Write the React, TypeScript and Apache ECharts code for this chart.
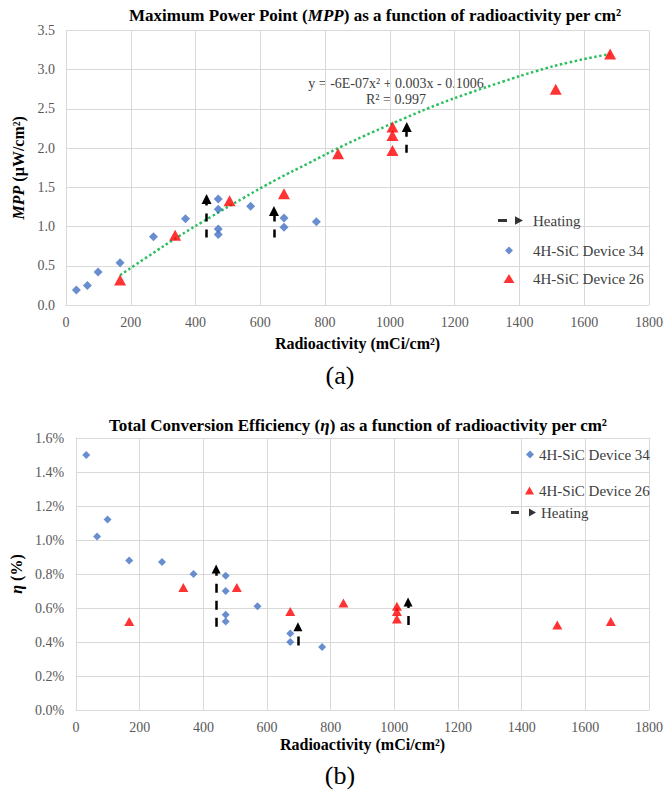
import React, { useEffect, useRef } from "react";
import * as echarts from "echarts";

// ---------- DATA ----------
// (a) Maximum Power Point, µW/cm² vs radioactivity mCi/cm²
const dev34Mpp: number[][] = [
  [32, 0.19], [66, 0.25], [99, 0.42], [167, 0.54], [270, 0.87], [369, 1.1],
  [470, 1.35], [470, 1.22], [470, 0.97], [470, 0.9], [570, 1.26],
  [673, 1.11], [673, 0.99], [773, 1.06],
];
const dev26Mpp: number[][] = [
  [167, 0.32], [337, 0.89], [505, 1.33], [673, 1.42], [840, 1.93],
  [1008, 1.97], [1008, 2.16], [1008, 2.27], [1512, 2.75], [1680, 3.2],
];
// trendline
const trendMpp: number[][] = [
  [167, 0.38], [250, 0.61], [350, 0.88], [450, 1.13], [550, 1.37], [650, 1.6],
  [750, 1.81], [850, 2.02], [950, 2.21], [1050, 2.39], [1150, 2.56],
  [1250, 2.71], [1350, 2.85], [1450, 2.98], [1550, 3.09], [1680, 3.2],
];
// heating arrows: [x, from, to]
const heatMpp: number[][] = [
  [434, 0.86, 1.35], [642, 0.86, 1.2], [1052, 1.94, 2.27],
];

// (b) Total conversion efficiency, %
const dev34Eff: number[][] = [
  [32, 1.5], [66, 1.02], [99, 1.12], [167, 0.88], [270, 0.87], [369, 0.8],
  [470, 0.79], [470, 0.7], [470, 0.56], [470, 0.52], [570, 0.61],
  [673, 0.45], [673, 0.4], [773, 0.37],
];
const dev26Eff: number[][] = [
  [167, 0.52], [337, 0.72], [505, 0.72], [673, 0.58], [840, 0.63],
  [1008, 0.61], [1008, 0.58], [1008, 0.535], [1512, 0.5], [1680, 0.52],
];
const heatEff: number[][] = [
  [440, 0.49, 0.83], [697, 0.38, 0.49], [1043, 0.5, 0.635],
];

const xTicks = { min: 0, max: 1800, interval: 200 };
const mppTicks = { min: 0, max: 3.5, interval: 0.5 };
const effTicks = { min: 0, max: 1.6, interval: 0.2 };

const NAME34 = "4H-SiC Device 34";
const NAME26 = "4H-SiC Device 26";
const NAMEH = "Heating";

const BLUE = "#4472C4";
const RED = "#FF0000";
const GREEN = "#2DBE60";
const GRID = "#D9D9D9";
const LABEL = "#595959";
const SERIF = "Liberation Serif";

const dot = (x: number, y: number) => `M${x},${y}h0.01v0.01h-0.01Z`;

export default function App() {
  const ref = useRef<HTMLDivElement>(null);

  useEffect(() => {
    document.body.style.margin = "0";
    if (!ref.current) return;
    const chart = echarts.init(ref.current, undefined, { renderer: "svg" });

    const xAxisBase = (gridIndex: number, nameGap: number) => ({
      type: "value" as const,
      gridIndex,
      ...xTicks,
      name: "Radioactivity (mCi/cm²)",
      nameLocation: "middle" as const,
      nameGap,
      nameTextStyle: { fontFamily: SERIF, fontSize: 16, fontWeight: "bold", color: "#000" },
      axisLine: { show: true, lineStyle: { color: GRID } },
      axisTick: { show: false },
      axisLabel: { fontFamily: SERIF, fontSize: 14, color: LABEL, margin: 10, formatter: (v: number) => String(v) },
      splitLine: { show: true, lineStyle: { color: GRID, width: 1 } },
    });

    const arrowLines = (arr: number[][]) =>
      arr.map(([x, a, b]) => [{ coord: [x, a] }, { coord: [x, b] }]);

    const mkHeat = (idx: number, arr: number[][], dash: number[], size: number) => ({
      name: NAMEH,
      type: "scatter" as const,
      xAxisIndex: idx,
      yAxisIndex: idx,
      data: [],
      itemStyle: { color: "#000" },
      markLine: {
        silent: true,
        symbol: ["none", "triangle"],
        symbolSize: [size, size],
        label: { show: false },
        lineStyle: { color: "#000", width: 2.5, type: dash, opacity: 1 },
        emphasis: { disabled: true },
        data: arrowLines(arr),
      },
    });

    const heatIconA =
      "path://" + dot(0, 0) + dot(30, 10) + "M0,3.5H9V6.5H0ZM17,0.8L25,5L17,9.2Z";
    const diaIconA = "path://" + dot(0, 0) + dot(30, 10) + "M11,1L15,5L11,9L7,5Z";
    const triIconA = "path://" + dot(0, 0) + dot(30, 10) + "M11,0.5L16.5,9.5L5.5,9.5Z";
    const heatIconB =
      "path://" + dot(0, 0) + dot(25, 10) + "M0,3.5H8V6.5H0ZM18,1L25,5L18,9Z";

    const legendText = { fontFamily: SERIF, fontSize: 15, color: "#404040" };
    const leg = (name: string, left: number, top: number, icon: string, w: number, h: number) => ({
      data: [{ name, icon }],
      left,
      top,
      itemWidth: w,
      itemHeight: h,
      selectedMode: false,
      padding: 0,
      textStyle: legendText,
    });

    const option: any = {
      animation: false,
      backgroundColor: "#fff",
      grid: [
        { left: 66, right: 14, top: 30.5, height: 274.5 },
        { left: 69.5, right: 16, top: 438, height: 272 },
      ],
      xAxis: [xAxisBase(0, 30), xAxisBase(1, 26)],
      yAxis: [
        {
          type: "value",
          gridIndex: 0,
          ...mppTicks,
          name: "{i|MPP} (µW/cm²)",
          nameLocation: "middle",
          nameGap: 36,
          nameRotate: 90,
          nameTextStyle: {
            fontFamily: SERIF, fontSize: 16, fontWeight: "bold", color: "#000",
            rich: { i: { fontFamily: SERIF, fontSize: 16, fontWeight: "bold", fontStyle: "italic", color: "#000" } },
          },
          axisLine: { show: true, lineStyle: { color: GRID } },
          axisTick: { show: false },
          axisLabel: { fontFamily: SERIF, fontSize: 14, color: LABEL, margin: 11, formatter: (v: number) => v.toFixed(1) },
          splitLine: { show: true, lineStyle: { color: GRID } },
        },
        {
          type: "value",
          gridIndex: 1,
          ...effTicks,
          name: "{i|η} (%)",
          nameLocation: "middle",
          nameGap: 46,
          nameRotate: 90,
          nameTextStyle: {
            fontFamily: SERIF, fontSize: 16, fontWeight: "bold", color: "#000",
            rich: { i: { fontFamily: SERIF, fontSize: 16, fontWeight: "bold", fontStyle: "italic", color: "#000" } },
          },
          axisLine: { show: true, lineStyle: { color: GRID } },
          axisTick: { show: false },
          axisLabel: { fontFamily: SERIF, fontSize: 14, color: LABEL, margin: 12, formatter: (v: number) => v.toFixed(1) + "%" },
          splitLine: { show: true, lineStyle: { color: GRID } },
        },
      ],
      legend: [
        leg(NAMEH, 498, 213, heatIconA, 30, 10),
        leg(NAME34, 498, 243, diaIconA, 30, 10),
        leg(NAME26, 498, 271, triIconA, 30, 10),
        leg(NAME34, 526, 447, "diamond", 8, 8),
        leg(NAME26, 525, 483, "triangle", 9, 8),
        leg(NAMEH, 511, 505, heatIconB, 25, 10),
      ],
      series: [
        {
          type: "line",
          xAxisIndex: 0,
          yAxisIndex: 0,
          data: trendMpp,
          smooth: true,
          showSymbol: false,
          silent: true,
          lineStyle: { color: GREEN, width: 2.5, type: [2.5, 2.5] },
          z: 1,
        },
        {
          name: NAME34, type: "scatter", xAxisIndex: 0, yAxisIndex: 0,
          data: dev34Mpp, symbol: "diamond", symbolSize: 9, itemStyle: { color: BLUE }, z: 3,
        },
        {
          name: NAME26, type: "scatter", xAxisIndex: 0, yAxisIndex: 0,
          data: dev26Mpp, symbol: "triangle", symbolSize: [12, 11], itemStyle: { color: RED }, z: 3,
        },
        mkHeat(0, heatMpp, [8, 8], 10),
        {
          name: NAME34, type: "scatter", xAxisIndex: 1, yAxisIndex: 1,
          data: dev34Eff, symbol: "diamond", symbolSize: 8, itemStyle: { color: BLUE }, z: 3,
        },
        {
          name: NAME26, type: "scatter", xAxisIndex: 1, yAxisIndex: 1,
          data: dev26Eff, symbol: "triangle", symbolSize: [10, 9], itemStyle: { color: RED }, z: 3,
        },
        mkHeat(1, heatEff, [9, 8], 9),
      ],
      graphic: [
        {
          type: "text", x: 375, y: 15,
          style: {
            text: "{b|Maximum Power Point (}{i|MPP}{b|) as a function of radioactivity per cm²}",
            align: "center", verticalAlign: "middle",
            rich: {
              b: { fontFamily: SERIF, fontSize: 17, fontWeight: "bold", fill: "#000" },
              i: { fontFamily: SERIF, fontSize: 17, fontWeight: "bold", fontStyle: "italic", fill: "#000" },
            },
          },
        },
        {
          type: "text", x: 358, y: 425,
          style: {
            text: "{b|Total Conversion Efficiency (}{i|η}{b|) as a function of radioactivity per cm²}",
            align: "center", verticalAlign: "middle",
            rich: {
              b: { fontFamily: SERIF, fontSize: 17, fontWeight: "bold", fill: "#000" },
              i: { fontFamily: SERIF, fontSize: 17, fontWeight: "bold", fontStyle: "italic", fill: "#000" },
            },
          },
        },
        {
          type: "text", x: 396, y: 83,
          style: {
            text: "y = -6E-07x² + 0.003x - 0.1006", align: "center", verticalAlign: "middle",
            fontFamily: SERIF, fontSize: 14, fill: "#404040",
          },
        },
        {
          type: "text", x: 396, y: 99,
          style: {
            text: "R² = 0.997", align: "center", verticalAlign: "middle",
            fontFamily: SERIF, fontSize: 14, fill: "#404040",
          },
        },
        {
          type: "text", x: 340, y: 375,
          style: { text: "(a)", align: "center", verticalAlign: "middle", fontFamily: SERIF, fontSize: 26, fill: "#000" },
        },
        {
          type: "text", x: 340, y: 775,
          style: { text: "(b)", align: "center", verticalAlign: "middle", fontFamily: SERIF, fontSize: 26, fill: "#000" },
        },
      ],
    };

    chart.setOption(option);
    return () => chart.dispose();
  }, []);

  return (
    <div
      ref={ref}
      style={{ position: "absolute", left: 0, top: 0, width: 666, height: 794 }}
    />
  );
}
